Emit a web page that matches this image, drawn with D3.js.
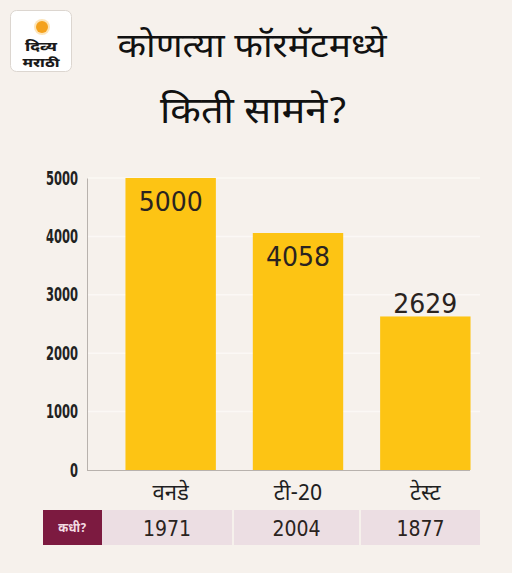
<!DOCTYPE html>
<html lang="mr">
<head>
<meta charset="UTF-8">
<title>कोणत्या फॉरमॅटमध्ये किती सामने?</title>
<script src="https://d3js.org/d3.v7.min.js"></script>
<style>
  html, body { margin: 0; padding: 0; background: #f6f1ec; }
  svg { display: block; }
</style>
</head>
<body>
<div id="chart"></div>
<script>
// data
const formats = ["वनडे", "टी-20", "टेस्ट"];
const matches = [5000, 4058, 2629];
const firstYear = ["1971", "2004", "1877"];
const yTicks = [0, 1000, 2000, 3000, 4000, 5000];
const labelInside = [true, true, false];

const W = 512, H = 573;
const deva = "'Noto Sans Devanagari', 'Noto Sans', 'Lohit Devanagari', sans-serif";
const digits = "'DejaVu Sans Condensed', 'Liberation Sans Narrow', sans-serif";

const svg = d3.select("#chart").append("svg")
  .attr("width", W).attr("height", H);

svg.append("rect").attr("width", W).attr("height", H).attr("fill", "#f6f1ec");

// logo
const logo = svg.append("g");
logo.append("rect").attr("x", 10.5).attr("y", 10.5).attr("width", 61).attr("height", 61)
  .attr("rx", 6).attr("fill", "#ffffff").attr("stroke", "#dcd6d0");
logo.append("circle").attr("cx", 42).attr("cy", 27).attr("r", 8).attr("fill", "#fbd38a").attr("opacity", 0.6);
logo.append("circle").attr("cx", 42).attr("cy", 27).attr("r", 6).attr("fill", "#f4a21e");
logo.append("text").attr("x", 41).attr("y", 51).attr("text-anchor", "middle")
  .attr("font-family", deva).attr("font-weight", 800).attr("font-size", 13)
  .attr("fill", "#1a1a1a").attr("textLength", 32).attr("lengthAdjust", "spacingAndGlyphs")
  .text("दिव्य");
logo.append("text").attr("x", 41).attr("y", 67).attr("text-anchor", "middle")
  .attr("font-family", deva).attr("font-weight", 800).attr("font-size", 12)
  .attr("fill", "#1a1a1a").attr("textLength", 37).attr("lengthAdjust", "spacingAndGlyphs")
  .text("मराठी");

// title
svg.append("text").attr("x", 252).attr("y", 57).attr("text-anchor", "middle")
  .attr("font-family", deva).attr("font-weight", 400).attr("font-size", 34).attr("fill", "#111")
  .attr("textLength", 269).attr("lengthAdjust", "spacingAndGlyphs")
  .text("कोणत्या फॉरमॅटमध्ये");
svg.append("text").attr("x", 254).attr("y", 123).attr("text-anchor", "middle")
  .attr("font-family", deva).attr("font-weight", 400).attr("font-size", 36).attr("fill", "#111")
  .attr("textLength", 188).attr("lengthAdjust", "spacingAndGlyphs")
  .text("किती सामने?");

// scales
const x = d3.scaleBand().domain(formats).range([100, 496]).paddingInner(0.29).paddingOuter(0.2);
const y = d3.scaleLinear().domain([0, 5000]).range([470, 178]);

// faint grid
svg.append("g").selectAll("line").data(yTicks.slice(1)).join("line")
  .attr("x1", 88).attr("x2", 480)
  .attr("y1", d => y(d)).attr("y2", d => y(d))
  .attr("stroke", "#fbf8f5").attr("stroke-width", 1.5);

// y axis
const yAxis = svg.append("g").attr("transform", "translate(87,0)")
  .call(d3.axisLeft(y).tickValues(yTicks).tickSize(0).tickPadding(9).tickFormat(d3.format("d")));
yAxis.select(".domain").attr("stroke", "#b8b2ad");
yAxis.selectAll("text")
  .attr("font-family", "'Liberation Sans Narrow', 'DejaVu Sans Condensed', sans-serif")
  .attr("font-weight", 700).attr("font-size", 19).attr("fill", "#222")
  .attr("textLength", d => String(d).length * 8).attr("lengthAdjust", "spacingAndGlyphs");

// bars
svg.append("g").selectAll("rect").data(matches).join("rect")
  .attr("x", (d, i) => x(formats[i]))
  .attr("width", x.bandwidth())
  .attr("y", d => y(d))
  .attr("height", d => y(0) - y(d))
  .attr("fill", "#fdc414");

// x axis line
svg.append("line").attr("x1", 87).attr("x2", 470).attr("y1", y(0) + 0.5).attr("y2", y(0) + 0.5)
  .attr("stroke", "#b8b2ad");

// value labels
svg.append("g").selectAll("text").data(matches).join("text")
  .attr("x", (d, i) => x(formats[i]) + x.bandwidth() / 2)
  .attr("y", (d, i) => labelInside[i] ? y(d) + 33 : y(d) - 3)
  .attr("text-anchor", "middle")
  .attr("font-family", digits)
  .attr("font-weight", 300).attr("font-size", 26).attr("fill", "#2a2320")
  .attr("textLength", 64).attr("lengthAdjust", "spacingAndGlyphs")
  .text(d => d);

// category labels
svg.append("g").selectAll("text").data(formats).join("text")
  .attr("x", d => x(d) + x.bandwidth() / 2)
  .attr("y", 500)
  .attr("text-anchor", "middle")
  .attr("font-family", deva).attr("font-size", 22).attr("fill", "#1f1f1f")
  .text(d => d);

// table row
const rowY = 510, rowH = 35;
svg.append("rect").attr("x", 43).attr("y", rowY).attr("width", 59).attr("height", rowH).attr("fill", "#7c1a40");
svg.append("text").attr("x", 72.5).attr("y", rowY + 22).attr("text-anchor", "middle")
  .attr("font-family", deva).attr("font-weight", 700).attr("font-size", 12).attr("fill", "#f3dbe3")
  .text("कधी?");

const cellEdges = [102, 234, 361, 482];
svg.append("g").selectAll("rect").data(firstYear).join("rect")
  .attr("x", (d, i) => cellEdges[i])
  .attr("y", rowY)
  .attr("width", (d, i) => cellEdges[i + 1] - cellEdges[i] - 2)
  .attr("height", rowH)
  .attr("fill", "#ecdee3");
svg.append("g").selectAll("text").data(firstYear).join("text")
  .attr("x", (d, i) => (cellEdges[i] + cellEdges[i + 1] - 2) / 2)
  .attr("y", rowY + 26)
  .attr("text-anchor", "middle")
  .attr("font-family", digits)
  .attr("font-weight", 300).attr("font-size", 21).attr("fill", "#2a2320")
  .text(d => d);
</script>
</body>
</html>
